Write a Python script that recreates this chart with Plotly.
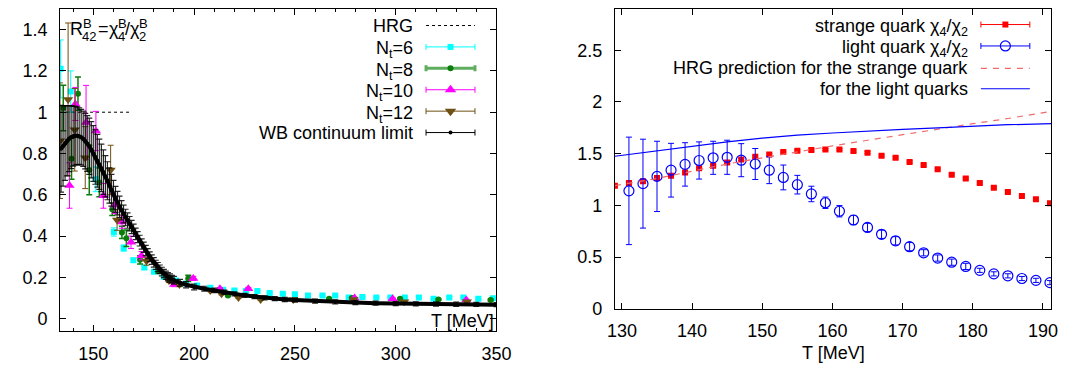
import plotly.graph_objects as go

W, H = 1075, 372
FONT = "Liberation Sans, Arial, Helvetica, sans-serif"
FS = 18

# ---------------- left panel data: R42 = chi4/chi2 (baryon) ----------------
hrg_T = [133.5, 168.3]
hrg_R = [1.0, 1.0]

nt6_T = [133.8, 138.8, 151.2, 160.2, 165.1, 169.9, 175.3, 180.1, 185.0, 191.0, 196.0,
         201.5, 208.0, 214.4, 220.0, 225.7, 231.4, 237.5, 244.0, 250.0, 256.5, 263.7,
         270.0, 276.7, 283.5, 290.4, 297.4, 304.5, 311.5, 318.8, 326.6, 333.6, 341.0, 348.2]
nt6_R = [1.21, 1.10, 0.675, 0.42, 0.342, 0.283, 0.248, 0.227, 0.203, 0.185, 0.17,
         0.161, 0.150, 0.140, 0.137, 0.134, 0.134, 0.124, 0.121, 0.118, 0.112, 0.112,
         0.112, 0.103, 0.105, 0.103, 0.103, 0.103, 0.103, 0.096, 0.103, 0.103, 0.096, 0.099]
nt6_E = [0.14, 0.10, 0.06, 0.02, 0.015, 0.01, 0.01, 0.008, 0.008, 0.006, 0.006,
         0.005, 0.005, 0.004, 0.004, 0.004, 0.004, 0.004, 0.003, 0.003, 0.003, 0.003,
         0.003, 0.003, 0.003, 0.003, 0.003, 0.003, 0.003, 0.003, 0.003, 0.003, 0.003, 0.003]

nt8_T = [135.1, 139.2, 142.4, 148.0, 153.0, 159.4, 164.2, 166.4, 173.2, 182.3, 197.1,
         216.8, 267.0, 278.3, 302.2, 321.2, 347.1]
nt8_R = [1.02, 0.775, 1.09, 0.72, 0.66, 0.53, 0.418, 0.39, 0.285, 0.23, 0.195,
         0.112, 0.096, 0.10, 0.096, 0.093, 0.09]
nt8_E = [0.11, 0.10, 0.08, 0.12, 0.07, 0.03, 0.03, 0.04, 0.02, 0.01, 0.015,
         0.005, 0.004, 0.004, 0.004, 0.004, 0.004]

nt10_T = [138.2, 141.1, 146.4, 151.3, 155.0, 160.7, 164.2, 168.7, 173.9, 190.1, 199.6,
          212.8, 226.9, 279.6, 298.5, 335.0]
nt10_R = [0.645, 1.04, 0.95, 0.909, 0.595, 0.55, 0.468, 0.37, 0.305, 0.165, 0.195,
          0.145, 0.145, 0.10, 0.096, 0.09]
nt10_E = [0.11, 0.08, 0.18, 0.095, 0.06, 0.04, 0.03, 0.03, 0.02, 0.01, 0.01,
          0.006, 0.006, 0.004, 0.004, 0.004]

nt12_T = [133.5, 137.5, 140.8, 146.0, 158.6, 161.8, 176.4, 187.5, 192.7, 208.0, 213.6,
          222.0, 233.0, 249.2, 279.1, 304.2, 335.3]
nt12_R = [0.862, 1.062, 0.915, 0.78, 0.72, 0.478, 0.279, 0.185, 0.165, 0.137, 0.121,
          0.103, 0.093, 0.093, 0.093, 0.082, 0.082]
nt12_E = [0.28, 0.37, 0.20, 0.15, 0.12, 0.05, 0.02, 0.01, 0.01, 0.006, 0.006,
          0.005, 0.004, 0.004, 0.004, 0.004, 0.004]

wb_T = [134, 135, 136, 137, 138, 139, 140, 141, 142, 143, 144, 145, 146, 147, 148, 149,
        150, 151, 152, 153, 154, 155, 156, 157, 158, 159, 160, 161, 162, 163, 164, 165,
        166, 167, 168, 169, 170, 171, 172, 173, 174, 175, 176, 177, 178, 179, 180, 181,
        182, 183, 184, 185, 186, 187, 188, 189, 190, 193, 196, 200, 205, 210, 215, 220,
        225, 230, 235, 240, 245, 250, 260, 270, 280, 290, 300, 310, 320, 330, 340, 350]
wb_R = [0.823, 0.837, 0.85, 0.862, 0.872, 0.879, 0.884, 0.886, 0.886, 0.884, 0.879,
        0.871, 0.86, 0.848, 0.835, 0.818, 0.80, 0.783, 0.765, 0.748, 0.73, 0.71, 0.69,
        0.668, 0.645, 0.622, 0.60, 0.578, 0.56, 0.542, 0.525, 0.507, 0.49, 0.475, 0.46,
        0.444, 0.428, 0.411, 0.395, 0.378, 0.362, 0.346, 0.33, 0.315, 0.30, 0.286, 0.273,
        0.261, 0.25, 0.239, 0.228, 0.219, 0.21, 0.203, 0.197, 0.191, 0.186, 0.174, 0.164,
        0.154, 0.145, 0.137, 0.128, 0.12, 0.113, 0.107, 0.101, 0.097, 0.093, 0.09, 0.085,
        0.081, 0.078, 0.075, 0.073, 0.072, 0.071, 0.07, 0.069, 0.068]
wb_E = [0.21, 0.195, 0.18, 0.17, 0.16, 0.152, 0.145, 0.142, 0.14, 0.137, 0.135, 0.134,
        0.134, 0.135, 0.136, 0.136, 0.135, 0.132, 0.128, 0.122, 0.115, 0.108, 0.10,
        0.092, 0.085, 0.077, 0.07, 0.063, 0.057, 0.052, 0.047, 0.043, 0.04, 0.037, 0.035,
        0.032, 0.03, 0.028, 0.027, 0.026, 0.025, 0.025, 0.025, 0.024, 0.024, 0.023,
        0.023, 0.022, 0.022, 0.021, 0.021, 0.02, 0.02, 0.02, 0.02, 0.019, 0.019, 0.016,
        0.015, 0.014, 0.012, 0.011, 0.01, 0.01, 0.01, 0.01, 0.01, 0.01, 0.01, 0.01,
        0.01, 0.01, 0.01, 0.01, 0.01, 0.01, 0.01, 0.01, 0.01, 0.01]

# ---------------- right panel data: chi4/chi2 for quarks ----------------
s_T = [129, 131, 133, 135, 137, 139, 141, 143, 145, 147, 149, 151, 153, 155, 157, 159,
       161, 163, 165, 167, 169, 171, 173, 175, 177, 179, 181, 183, 185, 187, 189, 191]
s_R = [1.19, 1.217, 1.233, 1.264, 1.286, 1.318, 1.358, 1.384, 1.415, 1.443, 1.469, 1.493,
       1.516, 1.528, 1.535, 1.54, 1.54, 1.525, 1.51, 1.48, 1.46, 1.42, 1.39, 1.35,
       1.295, 1.26, 1.215, 1.17, 1.13, 1.09, 1.06, 1.02]
s_E = [0.01] * 32

l_T = [131, 133, 135, 137, 139, 141, 143, 145, 147, 149, 151, 153, 155, 157, 159, 161,
       163, 165, 167, 169, 171, 173, 175, 177, 179, 181, 183, 185, 187, 189, 191]
l_R = [1.14, 1.21, 1.28, 1.34, 1.396, 1.434, 1.46, 1.465, 1.437, 1.40, 1.34, 1.27,
       1.20, 1.11, 1.025, 0.943, 0.858, 0.786, 0.72, 0.657, 0.60, 0.541, 0.49, 0.45,
       0.409, 0.371, 0.337, 0.318, 0.292, 0.274, 0.252]
l_E = [0.52, 0.43, 0.34, 0.26, 0.21, 0.18, 0.16, 0.165, 0.16, 0.15, 0.13, 0.12,
       0.09, 0.075, 0.055, 0.055, 0.045, 0.04, 0.04, 0.04, 0.04, 0.03, 0.03, 0.03,
       0.03, 0.02, 0.02, 0.02, 0.02, 0.02, 0.02]

hrgs_T = [129, 135, 140, 145, 150, 155, 160, 165, 170, 175, 180, 185, 191.2]
hrgs_R = [1.19, 1.26, 1.33, 1.40, 1.46, 1.52, 1.575, 1.63, 1.685, 1.74, 1.79, 1.84, 1.91]

hrgl_T = [129, 135, 140, 145, 150, 155, 160, 165, 170, 175, 180, 185, 191.2]
hrgl_R = [1.475, 1.53, 1.575, 1.615, 1.65, 1.68, 1.70, 1.72, 1.735, 1.75, 1.765, 1.78, 1.79]

# colours
C_CYAN = "#00ffff"
C_GREEN = "#0b7d0b"
C_GREEN_L = "#5fae5f"
C_MAG = "#ff00ff"
C_BROWN = "#6e5014"
C_RED = "#ff0000"
C_SALMON = "#f06a6a"
C_BLUE = "#0000ff"

fig = go.Figure()


def series(x, y, e, color, symbol, size, xa, ya, ecolor=None, lw=1):
    return go.Scatter(
        x=x, y=y, mode="markers", xaxis=xa, yaxis=ya, showlegend=False,
        marker=dict(symbol=symbol, size=size, color=color,
                    line=dict(width=1.2 if "open" in symbol else 0, color=color)),
        error_y=dict(type="data", array=e, color=ecolor or color, thickness=lw, width=3),
    )


# left panel
fig.add_trace(go.Scatter(x=hrg_T, y=hrg_R, mode="lines", xaxis="x", yaxis="y",
                         line=dict(color="black", width=1, dash="dot"), showlegend=False))
fig.add_trace(series(nt6_T, nt6_R, nt6_E, C_CYAN, "square", 6, "x", "y"))
fig.add_trace(series(nt8_T, nt8_R, nt8_E, C_GREEN, "circle", 6, "x", "y", ecolor=C_GREEN, lw=1.5))
fig.add_trace(series(nt10_T, nt10_R, nt10_E, C_MAG, "triangle-up", 9, "x", "y"))
fig.add_trace(series(nt12_T, nt12_R, nt12_E, C_BROWN, "triangle-down", 9, "x", "y"))
fig.add_trace(go.Scatter(
    x=wb_T, y=wb_R, mode="lines+markers", xaxis="x", yaxis="y", showlegend=False,
    line=dict(color="black", width=4), marker=dict(size=4, color="black"),
    error_y=dict(type="data", array=wb_E, color="rgba(0,0,0,0.85)", thickness=1.2, width=3)))

# right panel
fig.add_trace(series(s_T, s_R, s_E, C_RED, "square", 6, "x2", "y2"))
fig.add_trace(series(l_T, l_R, l_E, C_BLUE, "circle-open", 10, "x2", "y2"))
fig.add_trace(go.Scatter(x=hrgs_T, y=hrgs_R, mode="lines", xaxis="x2", yaxis="y2",
                         line=dict(color=C_SALMON, width=1.2, dash="6px,6px"), showlegend=False))
fig.add_trace(go.Scatter(x=hrgl_T, y=hrgl_R, mode="lines", xaxis="x2", yaxis="y2",
                         line=dict(color=C_BLUE, width=1.2), showlegend=False))

# ---------------- hand-built gnuplot-style keys (pixel overlay axes) ----------------
def key_err(xc, y, color, symbol, size, half=25, lw=1, mcolor=None):
    fig.add_trace(go.Scatter(
        x=[xc], y=[y], mode="markers", xaxis="x3", yaxis="y3", showlegend=False,
        marker=dict(symbol=symbol, size=size, color=mcolor or color,
                    line=dict(width=1.2 if "open" in symbol else 0, color=mcolor or color)),
        error_x=dict(type="constant", value=half, color=color, thickness=lw, width=3)))


def key_line(x0, x1, y, color, dash, width=1):
    fig.add_trace(go.Scatter(x=[x0, x1], y=[y, y], mode="lines", xaxis="x3", yaxis="y3",
                             showlegend=False, line=dict(color=color, dash=dash, width=width)))


LX0, LX1, LXC, LTX = 419, 469, 444, 407
left_rows = [18, 40, 62, 84, 106, 128]
key_line(LX0, LX1, left_rows[0], "black", "dot")
key_err(LXC, left_rows[1], C_CYAN, "square", 6)
key_err(LXC, left_rows[2], C_GREEN_L, "circle", 6, lw=3, mcolor=C_GREEN)
key_err(LXC, left_rows[3], C_MAG, "triangle-up", 10)
key_err(LXC, left_rows[4], C_BROWN, "triangle-down", 10)
key_err(LXC, left_rows[5], "black", "circle", 4)

RX0, RX1, RXC, RTX = 986, 1036, 1011, 974
right_rows = [17, 39, 62, 83]
key_err(RXC, right_rows[0], C_RED, "square", 6)
key_err(RXC, right_rows[1], C_BLUE, "circle-open", 10)
key_line(RX0, RX1, right_rows[2], C_SALMON, "6px,6px", 1.2)
key_line(RX0, RX1, right_rows[3], C_BLUE, "solid", 1.2)

left_labels = ["HRG", "N<sub>t</sub>=6", "N<sub>t</sub>=8", "N<sub>t</sub>=10",
               "N<sub>t</sub>=12", "WB continuum limit"]
right_labels = ["strange quark χ<sub>4</sub>/χ<sub>2</sub>", "light quark χ<sub>4</sub>/χ<sub>2</sub>",
                "HRG prediction for the strange quark", "for the light quarks"]

ann = []


def txt(x, y, s, xanchor="right", yanchor="middle", size=FS, yshift=0):
    ann.append(dict(x=x / W, y=1 - y / H, xref="paper", yref="paper", text=s,
                    showarrow=False, xanchor=xanchor, yanchor=yanchor, yshift=yshift,
                    borderpad=0, font=dict(family=FONT, size=size, color="black")))


for r, s in zip(left_rows, left_labels):
    txt(LTX, r, s, yshift=(-3 if "sub" in s else 0))
for r, s in zip(right_rows, right_labels):
    txt(RTX, r, s, yshift=(-3 if "sub" in s else 0))

# panel label  R^B_42 = chi^B_4 / chi^B_2  (stacked super/subscripts, piece by piece)
SUB = 13
txt(54, 22, "R", xanchor="left")
txt(67, 16, "B", xanchor="left", size=SUB)
txt(66, 29, "42", xanchor="left", size=SUB)
txt(83, 22, "=", xanchor="left")
txt(94, 22, "χ", xanchor="left")
txt(103, 16, "B", xanchor="left", size=SUB)
txt(103, 29, "4", xanchor="left", size=SUB)
txt(110, 22, "/", xanchor="left")
txt(115, 22, "χ", xanchor="left")
txt(125, 16, "B", xanchor="left", size=SUB)
txt(125, 29, "2", xanchor="left", size=SUB)

# axis titles
txt(489, 322, "T [MeV]")
txt(835, 355, "T [MeV]", xanchor="center")

axis_common = dict(showline=True, linecolor="black", linewidth=1, mirror="allticks",
                   ticks="inside", ticklen=6, tickcolor="black", tickwidth=1,
                   showgrid=False, zeroline=False,
                   tickfont=dict(family=FONT, size=FS, color="black"))

fig.update_layout(
    width=W, height=H, margin=dict(l=0, r=0, t=0, b=0),
    paper_bgcolor="white", plot_bgcolor="rgba(0,0,0,0)", showlegend=False,
    font=dict(family=FONT, size=FS, color="black"),
    xaxis=dict(domain=[45 / W, 491 / W], range=[133.5, 350], dtick=50, tick0=0,
               anchor="y", minor=dict(dtick=10, ticks="inside", ticklen=3, tickcolor="black"),
               ticklabelstandoff=6, **axis_common),
    yaxis=dict(domain=[1 - 332 / H, 1 - 1 / H], range=[-0.06, 1.5], dtick=0.2, tick0=0,
               anchor="x", ticklabelstandoff=8, **axis_common),
    xaxis2=dict(domain=[612 / W, 1058 / W], range=[129, 191.2], dtick=10, tick0=0,
                anchor="y2", ticklabelstandoff=6, **axis_common),
    yaxis2=dict(domain=[1 - 309 / H, 1 - 1 / H], range=[0, 2.9], dtick=0.5, tick0=0,
                anchor="x2", ticklabelstandoff=8, **axis_common),
    xaxis3=dict(domain=[0, 1], range=[0, W], visible=False, fixedrange=True, anchor="y3"),
    yaxis3=dict(domain=[0, 1], range=[H, 0], visible=False, fixedrange=True, anchor="x3"),
    annotations=ann,
)

fig.write_html("out.html")
